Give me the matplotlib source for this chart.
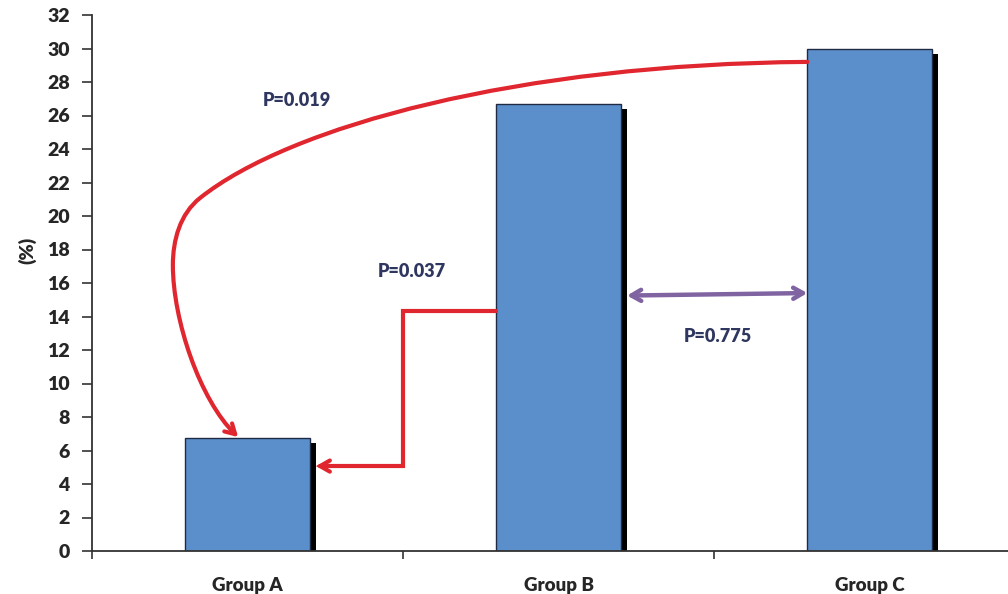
import matplotlib.pyplot as plt
from matplotlib.path import Path
from matplotlib.patches import FancyArrowPatch

# percentages per group
groups = ["Group A", "Group B", "Group C"]
values = [6.75, 26.7, 30.0]
p_labels = ["P=0.019", "P=0.037", "P=0.775"]
y_ticks = list(range(0, 33, 2))

plt.rcParams['font.family'] = ['Lato', 'DejaVu Sans']

fig = plt.figure(figsize=(10.08, 5.94), dpi=100)
ax = fig.add_axes([92 / 1008, 43 / 594, 916 / 1008, 536 / 594])

x = list(range(len(groups)))
width = 0.4
shadow_dx = 0.02

# black drop shadow behind each bar
ax.bar([i + shadow_dx for i in x], [v - 0.3 for v in values], width=width,
       color="black", zorder=1)
ax.bar(x, values, width=width, color="#5B8FCB", edgecolor="#1F2A44",
       linewidth=1.0, zorder=2)

ax.set_xlim(-0.5, 2.445)
ax.set_ylim(0, 32)

ax.set_yticks(y_ticks)
ax.set_yticklabels([str(t) for t in y_ticks], fontsize=14,
                   fontweight="heavy", color="#262626")
ax.tick_params(axis="y", direction="out", length=7, width=1.2,
               color="#333333", pad=9)

# boundary ticks between groups, labels at the centres
ax.set_xticks([-0.5, 0.5, 1.5])
ax.set_xticklabels([])
ax.tick_params(axis="x", which="major", direction="out", length=6,
               width=1.2, color="#333333")
ax.set_xticks(x, minor=True)
ax.set_xticklabels(groups, minor=True, fontsize=13.5, fontweight="heavy",
                   color="#262626")
ax.tick_params(axis="x", which="minor", length=0, pad=19)

for s in ["top", "right"]:
    ax.spines[s].set_visible(False)
for s in ["left", "bottom"]:
    ax.spines[s].set_color("#333333")
    ax.spines[s].set_linewidth(1.3)

fig.text(27 / 1008, 1 - 250 / 594, "(%)", rotation=90, fontsize=14,
         fontweight="heavy", color="#262626", ha="center", va="center")

red = "#E0262F"
purple = "#8064A2"
navy = "#2F3760"

bar_left_c = x[2] - width / 2
bar_left_b = x[1] - width / 2
bar_right_a = x[0] + width / 2 + shadow_dx
bar_right_b = x[1] + width / 2 + shadow_dx

# long curved arrow from Group C down to Group A
curve = Path(
    [(bar_left_c, 29.2),
     (0.876, 29.07), (0.137, 25.37), (-0.153, 21.07),
     (-0.217, 20.12), (-0.240, 18.57), (-0.240, 17.07),
     (-0.240, 13.79), (-0.153, 9.01), (-0.03, values[0] + 0.05)],
    [Path.MOVETO] + [Path.CURVE4] * 9)
ax.add_patch(FancyArrowPatch(path=curve, arrowstyle="->,head_length=7,head_width=4",
                             color=red, linewidth=3, zorder=3,
                             transform=ax.transData))

# elbow arrow from Group B to Group A
elbow = Path(
    [(bar_left_b, 14.33), (0.5, 14.33), (0.5, 5.07), (bar_right_a, 5.07)],
    [Path.MOVETO, Path.LINETO, Path.LINETO, Path.LINETO])
ax.add_patch(FancyArrowPatch(path=elbow, arrowstyle="->,head_length=7,head_width=4",
                             color=red, linewidth=3, zorder=3,
                             joinstyle="miter", transform=ax.transData))

# double arrow between Group B and Group C
ax.annotate("", xy=(bar_left_c, 15.4), xytext=(bar_right_b, 15.25),
            arrowprops=dict(arrowstyle="<->,head_length=0.7,head_width=0.4",
                            color=purple, linewidth=3.2,
                            shrinkA=0, shrinkB=0), zorder=3)

ax.text(0.16, 26.9, p_labels[0], fontsize=13, fontweight="heavy",
        color=navy, ha="center", va="center")
ax.text(0.529, 16.66, p_labels[1], fontsize=13, fontweight="heavy",
        color=navy, ha="center", va="center")
ax.text(1.513, 12.78, p_labels[2], fontsize=13, fontweight="heavy",
        color=navy, ha="center", va="center")

plt.savefig("out.png", dpi=100)
